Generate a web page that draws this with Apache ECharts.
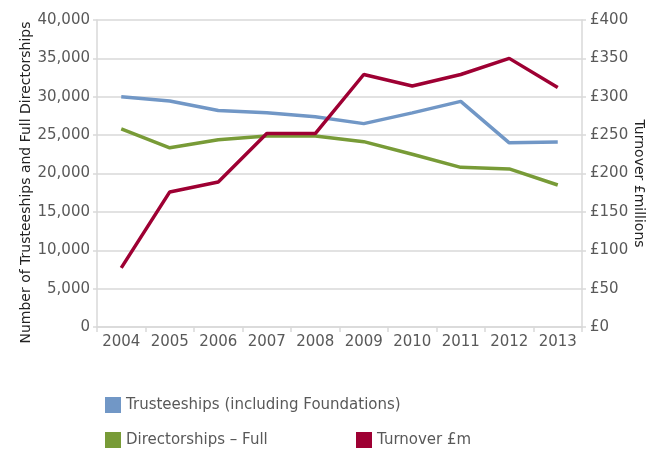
<!DOCTYPE html>
<html>
<head>
<meta charset="utf-8">
<script src="https://cdn.jsdelivr.net/npm/echarts@6/dist/echarts.min.js"></script>
<style>
  html, body { margin: 0; padding: 0; background: #fff; }
  #chart { width: 661px; height: 452px; }
</style>
</head>
<body>
<div id="chart"></div>
<script>
// Years on the category axis
const years = ['2004', '2005', '2006', '2007', '2008', '2009', '2010', '2011', '2012', '2013'];
// Number of trusteeships (including foundations)
const trusteeships = [30000, 29450, 28200, 27900, 27400, 26500, 27900, 29400, 24000, 24100];
// Number of full directorships
const directorships = [25800, 23350, 24400, 24900, 24900, 24150, 22500, 20800, 20600, 18500];
// Turnover in £ millions (right axis)
const turnover = [77, 176, 189, 252, 252, 329, 314, 329, 350, 312];

const FONT = '"DejaVu Sans", sans-serif';
const GREY = '#595959';
const GRID = '#d9d9d9';

const chart = echarts.init(document.getElementById('chart'));

const legendText = { fontFamily: FONT, fontSize: 15, color: GREY };
function legendAt(name, left, top) {
  return {
    data: [name], left: left, top: top, icon: 'rect',
    itemWidth: 16, itemHeight: 16, itemGap: 8,
    textStyle: legendText, selectedMode: false
  };
}

chart.setOption({
  animation: false,
  grid: { left: 97, right: 79, top: 20, bottom: 125 },
  legend: [
    legendAt('Trusteeships (including Foundations)', 100, 392),
    legendAt('Directorships – Full', 100, 427),
    legendAt('Turnover £m', 351, 427)
  ],
  xAxis: {
    type: 'category', data: years, boundaryGap: true,
    axisLine: { lineStyle: { color: GRID, width: 1.5 } },
    axisTick: { show: true, interval: 0, length: 5, lineStyle: { color: GRID, width: 1.5 } },
    axisLabel: { interval: 0, fontFamily: FONT, fontSize: 15, color: GREY, margin: 8 }
  },
  yAxis: [
    {
      type: 'value', min: 0, max: 40000, interval: 5000, position: 'left',
      name: 'Number of Trusteeships and Full Directorships',
      nameLocation: 'middle', nameGap: 64, nameRotate: 90, nameMoveOverlap: false,
      nameTextStyle: { fontFamily: FONT, fontSize: 14, color: '#222', padding: [0, 18, 0, 0] },
      axisLine: { show: true, lineStyle: { color: GRID, width: 1.5 } },
      axisTick: { show: true, length: 4, lineStyle: { color: GRID, width: 1.5 } },
      splitLine: { lineStyle: { color: GRID, width: 1.5 } },
      axisLabel: {
        fontFamily: FONT, fontSize: 15, color: GREY, margin: 7,
        formatter: v => v === 0 ? '0' : v.toLocaleString('en-GB')
      }
    },
    {
      type: 'value', min: 0, max: 400, interval: 50, position: 'right',
      name: 'Turnover £millions',
      nameLocation: 'middle', nameGap: 50, nameRotate: -90, nameMoveOverlap: false,
      nameTextStyle: { fontFamily: FONT, fontSize: 14, color: '#222', padding: [0, 0, 0, 20] },
      axisLine: { show: true, lineStyle: { color: GRID, width: 1.5 } },
      axisTick: { show: true, length: 4, lineStyle: { color: GRID, width: 1.5 } },
      splitLine: { show: false },
      axisLabel: {
        fontFamily: FONT, fontSize: 15, color: GREY, margin: 8,
        formatter: v => '£' + v
      }
    }
  ],
  series: [
    {
      name: 'Trusteeships (including Foundations)', type: 'line', yAxisIndex: 0,
      data: trusteeships, showSymbol: false, symbol: 'none',
      itemStyle: { color: '#7197c6' }, lineStyle: { color: '#7197c6', width: 3.5 }
    },
    {
      name: 'Directorships – Full', type: 'line', yAxisIndex: 0,
      data: directorships, showSymbol: false, symbol: 'none',
      itemStyle: { color: '#789b37' }, lineStyle: { color: '#789b37', width: 3.5 }
    },
    {
      name: 'Turnover £m', type: 'line', yAxisIndex: 1,
      data: turnover, showSymbol: false, symbol: 'none',
      itemStyle: { color: '#9e0033' }, lineStyle: { color: '#9e0033', width: 3.5 }
    }
  ]
});
</script>
</body>
</html>
